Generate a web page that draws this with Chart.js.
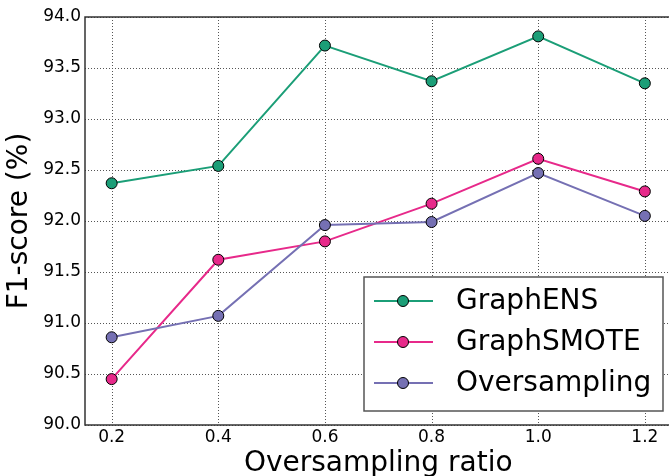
<!DOCTYPE html>
<html>
<head>
<meta charset="utf-8">
<script src="https://cdn.jsdelivr.net/npm/chart.js@4/dist/chart.umd.min.js"></script>
<style>
html, body { margin: 0; padding: 0; overflow: hidden; background: #fff; }
#wrap { width: 678px; height: 476px; }
</style>
</head>
<body>
<div id="wrap"><canvas id="c" width="678" height="476"></canvas></div>
<script>
const ratios = [0.2, 0.4, 0.6, 0.8, 1.0, 1.2];
const graphENS = [92.37, 92.54, 93.72, 93.37, 93.81, 93.35];
const graphSMOTE = [90.45, 91.62, 91.80, 92.17, 92.61, 92.29];
const oversampling = [90.86, 91.07, 91.96, 91.99, 92.47, 92.05];
const xTicks = [0.2, 0.4, 0.6, 0.8, 1.0, 1.2];
const yTicks = [90.0, 90.5, 91.0, 91.5, 92.0, 92.5, 93.0, 93.5, 94.0];
const seriesNames = ['GraphENS', 'GraphSMOTE', 'Oversampling'];
const seriesColors = ['#1b9e77', '#e7298a', '#7570b3'];

const FONT = 'DejaVu Sans';
const toPts = arr => arr.map((v, i) => ({ x: ratios[i], y: v }));
const allSeries = [graphENS, graphSMOTE, oversampling];

const datasets = allSeries.map((s, i) => ({
  label: seriesNames[i],
  data: toPts(s),
  borderColor: seriesColors[i],
  backgroundColor: seriesColors[i],
  borderWidth: 2,
  pointRadius: 5.5,
  pointHoverRadius: 5.5,
  pointBorderColor: '#000',
  pointBorderWidth: 1,
  pointBackgroundColor: seriesColors[i],
  tension: 0,
  order: 2 - i,
  clip: false
}));

const gridPlugin = {
  id: 'dottedGrid',
  beforeDatasetsDraw(chart) {
    const { ctx, chartArea: a, scales } = chart;
    ctx.save();
    ctx.strokeStyle = '#555';
    ctx.lineWidth = 1;
    ctx.setLineDash([1, 2]);
    xTicks.forEach(v => {
      const px = Math.round(scales.x.getPixelForValue(v)) + 0.5;
      ctx.beginPath();
      ctx.moveTo(px, a.top);
      ctx.lineTo(px, a.bottom);
      ctx.stroke();
    });
    yTicks.forEach(v => {
      const py = Math.round(scales.y.getPixelForValue(v)) + 0.5;
      ctx.beginPath();
      ctx.moveTo(a.left, py);
      ctx.lineTo(a.right, py);
      ctx.stroke();
    });
    ctx.restore();
  }
};

const framePlugin = {
  id: 'frame',
  afterDatasetsDraw(chart) {
    const { ctx, chartArea: a } = chart;
    ctx.save();
    ctx.strokeStyle = '#333';
    ctx.lineWidth = 1.5;
    ctx.strokeRect(a.left, a.top, a.right - a.left, a.bottom - a.top);
    ctx.restore();
  }
};

const legendPlugin = {
  id: 'customLegend',
  afterDraw(chart) {
    const { ctx } = chart;
    const x0 = 364, y0 = 277, x1 = 663, y1 = 411;
    ctx.save();
    ctx.fillStyle = '#fff';
    ctx.fillRect(x0, y0, x1 - x0, y1 - y0);
    ctx.strokeStyle = '#555';
    ctx.lineWidth = 1.5;
    ctx.strokeRect(x0, y0, x1 - x0, y1 - y0);
    const rows = [301, 342, 383];
    seriesNames.forEach((name, i) => {
      const y = rows[i];
      ctx.strokeStyle = seriesColors[i];
      ctx.lineWidth = 2;
      ctx.beginPath();
      ctx.moveTo(374, y);
      ctx.lineTo(433, y);
      ctx.stroke();
      ctx.beginPath();
      ctx.arc(403, y, 5.5, 0, Math.PI * 2);
      ctx.fillStyle = seriesColors[i];
      ctx.fill();
      ctx.lineWidth = 1;
      ctx.strokeStyle = '#000';
      ctx.stroke();
      ctx.fillStyle = '#000';
      ctx.font = '28px "' + FONT + '"';
      ctx.textBaseline = 'middle';
      ctx.textAlign = 'left';
      ctx.fillText(name, 456, y + 1);
    });
    ctx.restore();
  }
};

new Chart(document.getElementById('c'), {
  type: 'line',
  data: { datasets },
  options: {
    responsive: false,
    animation: false,
    events: [],
    layout: { padding: { top: 17, right: 1, left: 0, bottom: 0 } },
    plugins: { legend: { display: false }, tooltip: { enabled: false } },
    scales: {
      x: {
        type: 'linear',
        min: 0.15,
        max: 1.25,
        afterBuildTicks: s => { s.ticks = xTicks.map(v => ({ value: v })); },
        afterFit: s => { s.height = 51; },
        ticks: {
          color: '#000',
          font: { family: FONT, size: 17 },
          padding: 2,
          maxRotation: 0,
          callback: v => Number(v).toFixed(1)
        },
        grid: { display: false, drawTicks: false },
        border: { display: false },
        title: {
          display: true,
          text: 'Oversampling ratio',
          color: '#000',
          font: { family: FONT, size: 28, lineHeight: 1.2 },
          padding: { top: 0, bottom: -5 }
        }
      },
      y: {
        type: 'linear',
        min: 90,
        max: 94,
        afterBuildTicks: s => { s.ticks = yTicks.map(v => ({ value: v })); },
        afterFit: s => { s.width = 85; },
        ticks: {
          color: '#000',
          font: { family: FONT, size: 17 },
          padding: 4,
          callback: v => Number(v).toFixed(1)
        },
        grid: { display: false, drawTicks: false },
        border: { display: false },
        title: {
          display: true,
          text: 'F1-score (%)',
          color: '#000',
          font: { family: FONT, size: 28, lineHeight: 1.2 },
          padding: { top: 3, bottom: 0 }
        }
      }
    }
  },
  plugins: [gridPlugin, framePlugin, legendPlugin]
});
</script>
</body>
</html>
